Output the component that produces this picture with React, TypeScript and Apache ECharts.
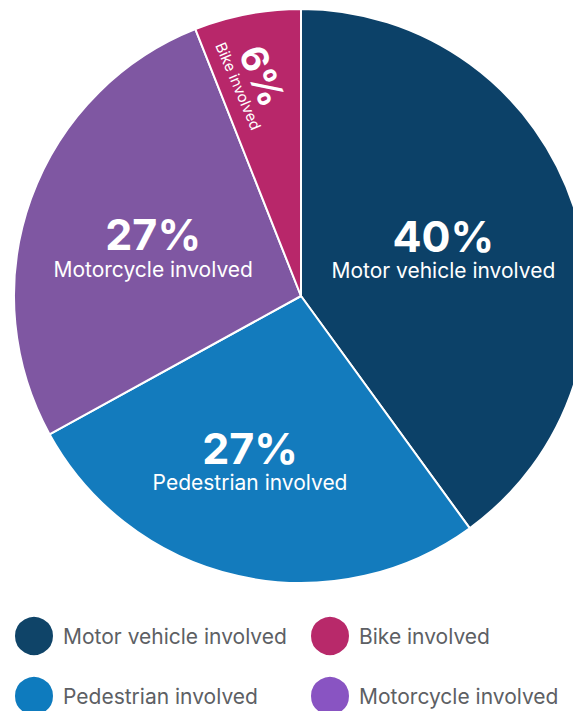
import React, { useEffect, useRef } from "react";
import * as echarts from "echarts";

const categories = [
  "Motor vehicle involved",
  "Pedestrian involved",
  "Motorcycle involved",
  "Bike involved",
];
const values = [40, 27, 27, 6];
const sliceColors = ["#0C4168", "#137BBD", "#7F57A2", "#B8276A"];
const legendColors = ["#0F4468", "#0E7BBE", "#8954C2", "#B8296A"];
// legend grid: [name, column, row]
const legendOrder: [string, number, number][] = [
  ["Motor vehicle involved", 0, 0],
  ["Bike involved", 1, 0],
  ["Pedestrian involved", 0, 1],
  ["Motorcycle involved", 1, 1],
];

// label nudges (layout only)
const labelNudge: number[][] = [
  [3, -3],
  [-19, 21],
  [-10, 0],
];
const bikeLabelAt = { x: 255, y: 79 };

export default function App() {
  const ref = useRef<HTMLDivElement>(null);
  useEffect(() => {
    if (!ref.current) return;
    const chart = echarts.init(ref.current, null, { renderer: "svg" });
    const font = "Inter, 'Noto Sans', sans-serif";
    const colLeft = [13, 309];
    const rowTop = [615, 675];
    const colorOf = (n: string) => legendColors[categories.indexOf(n)];
    chart.setOption({
      animation: false,
      legend: legendOrder.map(([name, c, r]) => ({
        left: colLeft[c],
        top: rowTop[r],
        padding: 0,
        icon: "circle",
        itemWidth: 40,
        itemHeight: 40,
        selectedMode: false,
        textStyle: {
          fontSize: 21,
          color: "#5d6064",
          fontFamily: font,
          padding: [0, 0, 0, 4],
        },
        data: [{ name, itemStyle: { color: colorOf(name) } }],
      })),
      series: [
        {
          type: "pie",
          center: [301, 296],
          radius: [0, 287],
          startAngle: 90,
          clockwise: true,
          avoidLabelOverlap: false,
          itemStyle: { borderColor: "#ffffff", borderWidth: 2 },
          label: {
            show: true,
            position: "inside",
            formatter: "{p|{c}%}\n{n|{b}}",
            color: "#ffffff",
            fontFamily: font,
            rich: {
              p: { fontSize: 43, fontWeight: 700, color: "#fff", fontFamily: font, lineHeight: 46 },
              n: { fontSize: 21, color: "#fff", fontFamily: font, lineHeight: 24 },
            },
          },
          labelLine: { show: false },
          labelLayout: (params: any) => {
            if (categories[params.dataIndex] === "Bike involved") {
              return { x: bikeLabelAt.x, y: bikeLabelAt.y };
            }
            const k = labelNudge[params.dataIndex] || [0, 0];
            return { dx: k[0], dy: k[1] };
          },
          emphasis: { disabled: true },
          data: categories.map((name, i) => {
            const d: any = {
              name,
              value: values[i],
              itemStyle: { color: sliceColors[i] },
            };
            if (name === "Bike involved") {
              d.label = {
                rotate: -67,
                rich: {
                  p: { fontSize: 37, fontWeight: 700, color: "#fff", fontFamily: font, lineHeight: 36 },
                  n: { fontSize: 15, color: "#fff", fontFamily: font, lineHeight: 16 },
                },
              };
            }
            return d;
          }),
        },
      ],
    });
    return () => chart.dispose();
  }, []);
  return (
    <div
      ref={ref}
      style={{ position: "absolute", left: 0, top: 0, width: 573, height: 711, background: "#fff" }}
    />
  );
}
